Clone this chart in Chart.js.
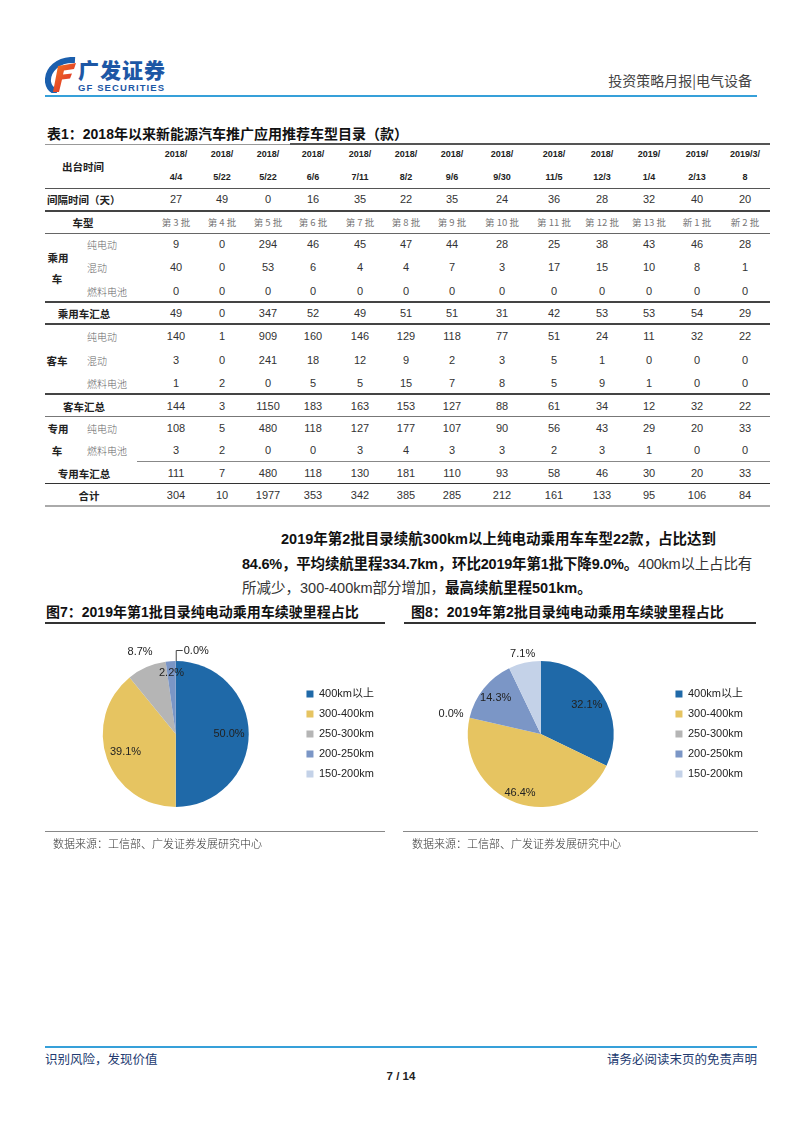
<!DOCTYPE html>
<html lang="zh-CN">
<head>
<meta charset="utf-8">
<title>广发证券 投资策略月报|电气设备</title>
<script src="https://cdn.jsdelivr.net/npm/chart.js"></script>
<style>
  html, body { margin: 0; padding: 0; background: #fff; }
  body { width: 802px; height: 1133px; position: relative; overflow: hidden;
         font-family: "Liberation Sans", Arial, "Noto Sans CJK SC", sans-serif; color: #222; }
  .abs { position: absolute; white-space: nowrap; }
  .c { transform: translate(-50%, -50%); }
  .l { transform: translate(0, -50%); }
  .r { transform: translate(-100%, -50%); }
  .hl { position: absolute; }
  .num { font-size: 11px; color: #333; }
  .date { font-size: 9px; font-weight: bold; color: #222; }
  .batch { font-size: 9.5px; color: #777; font-family: "Noto Sans CJK SC", sans-serif; }
  .lab { font-size: 10.5px; font-weight: bold; color: #222; font-family: "Noto Sans CJK SC", sans-serif; }
  .sub { font-size: 10px; color: #666; font-family: "Noto Sans CJK SC", sans-serif; font-weight: 300; }
  .cap { font-size: 14px; font-weight: bold; color: #111; font-family: "Liberation Sans", "Noto Sans CJK SC", sans-serif; }
  .para { font-size: 14.5px; color: #333; font-family: "Liberation Sans", "Noto Sans CJK SC", sans-serif; }
  .para b { color: #111; }
  .src { font-size: 11px; color: #333; font-family: "Noto Sans CJK SC", sans-serif; font-weight: 300; }
  canvas { position: absolute; }
</style>
</head>
<body>

<!-- 页眉 -->
<svg class="abs" style="left:45px;top:57px" width="32" height="36" viewBox="0 0 32 36">
  <defs>
    <linearGradient id="rg" x1="0" y1="0" x2="1" y2="1">
      <stop offset="0" stop-color="#f47a20"/>
      <stop offset="1" stop-color="#d8202c"/>
    </linearGradient>
  </defs>
  <path d="M30 3 C13 2, 2 13, 3 25 C4 31, 8 34, 12 35" stroke="#1b5fad" stroke-width="6" fill="none"/>
  <path d="M13 9 L31 6 L29 12 L19 13.5 L18 17.5 L27 16.5 L25 21.5 L17 22.5 L14 35 L8 35 Z" fill="url(#rg)"/>
</svg>
<div class="abs l" style="left:78px;top:69px;font-size:21px;line-height:1;letter-spacing:1px;font-weight:900;color:#1d57a5;font-family:'Noto Sans CJK SC';">广发证券</div>
<div class="abs l" style="left:78px;top:88px;font-size:9.5px;line-height:1;font-weight:bold;color:#1d57a5;letter-spacing:1.1px;">GF SECURITIES</div>
<div class="abs r" style="left:752px;top:80px;font-size:14px;color:#444;font-family:'Noto Sans CJK SC';">投资策略月报|电气设备</div>
<div class="hl" style="left:45px;top:95px;width:712px;height:2px;background:#36a0d9;"></div>

<!-- 表1 -->
<div class="abs l cap" style="left:47px;top:133px;">表1：2018年以来新能源汽车推广应用推荐车型目录（款）</div>
<div id="table"></div>

<!-- 正文 -->
<div class="abs l para" style="left:281px;top:537px;"><b>2019年第2批目录续航300km以上纯电动乘用车车型22款，占比达到</b></div>
<div class="abs l para" style="left:242px;top:562px;width:510px;letter-spacing:-0.25px;text-align:justify;text-align-last:justify;"><b>84.6%，平均续航里程334.7km，环比2019年第1批下降9.0%。</b>400km以上占比有</div>
<div class="abs l para" style="left:242px;top:586px;">所减少，300-400km部分增加，<b>最高续航里程501km。</b></div>

<!-- 图7 / 图8 -->
<div class="abs l cap" style="left:46px;top:611px;">图7：2019年第1批目录纯电动乘用车续驶里程占比</div>
<div class="hl" style="left:45px;top:622px;width:340px;height:1.5px;background:#333;"></div>
<div class="abs l cap" style="left:411px;top:611px;">图8：2019年第2批目录纯电动乘用车续驶里程占比</div>
<div class="hl" style="left:404px;top:622px;width:352px;height:1.5px;background:#333;"></div>

<canvas id="pie1"></canvas>
<canvas id="pie2"></canvas>

<div class="hl" style="left:45px;top:831px;width:340px;height:1px;background:#888;"></div>
<div class="abs l src" style="left:53px;top:843px;">数据来源：工信部、广发证券发展研究中心</div>
<div class="hl" style="left:403px;top:831px;width:355px;height:1px;background:#888;"></div>
<div class="abs l src" style="left:412px;top:843px;">数据来源：工信部、广发证券发展研究中心</div>

<!-- 页脚 -->
<div class="hl" style="left:45px;top:1046px;width:712px;height:2px;background:#36a0d9;"></div>
<div class="abs l" style="left:45px;top:1058px;font-size:12.5px;color:#223a70;font-family:'Noto Sans CJK SC';">识别风险，发现价值</div>
<div class="abs r" style="left:757px;top:1058px;font-size:12.5px;color:#223a70;font-family:'Noto Sans CJK SC';">请务必阅读末页的免责声明</div>
<div class="abs c" style="left:401px;top:1076px;font-size:11.5px;font-weight:bold;color:#222;">7 / 14</div>

<script>
// 表1 数据
const dateTop = ['2018/', '2018/', '2018/', '2018/', '2018/', '2018/', '2018/', '2018/', '2018/', '2018/', '2019/', '2019/', '2019/3/'];
const dateBottom = ['4/4', '5/22', '5/22', '6/6', '7/11', '8/2', '9/6', '9/30', '11/5', '12/3', '1/4', '2/13', '8'];
const intervalDays = [27, 49, 0, 16, 35, 22, 35, 24, 36, 28, 32, 40, 20];
const batchNames = ['第 3 批', '第 4 批', '第 5 批', '第 6 批', '第 7 批', '第 8 批', '第 9 批', '第 10 批', '第 11 批', '第 12 批', '第 13 批', '新 1 批', '新 2 批'];
const passengerBEV = [9, 0, 294, 46, 45, 47, 44, 28, 25, 38, 43, 46, 28];
const passengerHybrid = [40, 0, 53, 6, 4, 4, 7, 3, 17, 15, 10, 8, 1];
const passengerFuelCell = [0, 0, 0, 0, 0, 0, 0, 0, 0, 0, 0, 0, 0];
const passengerTotal = [49, 0, 347, 52, 49, 51, 51, 31, 42, 53, 53, 54, 29];
const busBEV = [140, 1, 909, 160, 146, 129, 118, 77, 51, 24, 11, 32, 22];
const busHybrid = [3, 0, 241, 18, 12, 9, 2, 3, 5, 1, 0, 0, 0];
const busFuelCell = [1, 2, 0, 5, 5, 15, 7, 8, 5, 9, 1, 0, 0];
const busTotal = [144, 3, 1150, 183, 163, 153, 127, 88, 61, 34, 12, 32, 22];
const specialBEV = [108, 5, 480, 118, 127, 177, 107, 90, 56, 43, 29, 20, 33];
const specialFuelCell = [3, 2, 0, 0, 3, 4, 3, 3, 2, 3, 1, 0, 0];
const specialTotal = [111, 7, 480, 118, 130, 181, 110, 93, 58, 46, 30, 20, 33];
const grandTotal = [304, 10, 1977, 353, 342, 385, 285, 212, 161, 133, 95, 106, 84];

// 图7、图8 数据（%）
const rangeLabels = ['400km以上', '300-400km', '250-300km', '200-250km', '150-200km'];
const batch1Share = [50.0, 39.1, 8.7, 2.2, 0.0];
const batch2Share = [32.1, 46.4, 0.0, 14.3, 7.1];

// ---- 表格排版 ----
const colX = [176, 222, 268, 313, 360, 406, 452, 502, 554, 602, 649, 697, 745];
const table = document.getElementById('table');

function put(text, x, y, cls, align) {
  const d = document.createElement('div');
  d.className = 'abs ' + (align || 'c') + ' ' + cls;
  d.style.left = x + 'px';
  d.style.top = y + 'px';
  d.textContent = text;
  table.appendChild(d);
}
function hline(y, x1, x2, h, color) {
  const d = document.createElement('div');
  d.className = 'hl';
  d.style.cssText = `left:${x1}px;top:${y - h / 2}px;width:${x2 - x1}px;height:${h}px;background:${color};`;
  table.appendChild(d);
}
function row(values, y, cls) {
  values.forEach((v, i) => put(String(v), colX[i], y, cls || 'num'));
}

row(dateTop, 154, 'date');
row(dateBottom, 177, 'date');
put('出台时间', 83, 166, 'lab');
row(intervalDays, 199);
put('间隔时间（天）', 47, 199, 'lab', 'l');
row(batchNames, 221.5, 'batch');
put('车型', 83, 221.5, 'lab');

put('乘用', 58, 257, 'lab');
put('车', 57, 278, 'lab');
put('纯电动', 87, 244, 'sub', 'l');
put('混动', 87, 267, 'sub', 'l');
put('燃料电池', 87, 290.5, 'sub', 'l');
row(passengerBEV, 244);
row(passengerHybrid, 267);
row(passengerFuelCell, 290.5);
put('乘用车汇总', 84, 312.5, 'lab');
row(passengerTotal, 312.5);

put('客车', 57, 360, 'lab');
put('纯电动', 87, 336, 'sub', 'l');
put('混动', 87, 360, 'sub', 'l');
put('燃料电池', 87, 382.5, 'sub', 'l');
row(busBEV, 336);
row(busHybrid, 360);
row(busFuelCell, 382.5);
put('客车汇总', 84, 405.5, 'lab');
row(busTotal, 405.5);

put('专用', 58, 428, 'lab');
put('车', 57, 450, 'lab');
put('纯电动', 87, 428, 'sub', 'l');
put('燃料电池', 87, 450, 'sub', 'l');
row(specialBEV, 428);
row(specialFuelCell, 450);
put('专用车汇总', 84, 472.5, 'lab');
row(specialTotal, 472.5);
put('合计', 89, 494.5, 'lab');
row(grandTotal, 494.5);

hline(144, 45, 290, 1, '#999');
hline(144, 290, 770, 2, '#555');
hline(188.5, 45, 770, 1, '#555');
hline(210.5, 45, 770, 2, '#444');
hline(233, 45, 770, 1, '#666');
hline(302, 45, 770, 1.5, '#444');
hline(324, 45, 770, 2, '#444');
hline(393.5, 45, 770, 2, '#444');
hline(416, 45, 770, 1, '#777');
hline(461.5, 137, 770, 1, '#888');
hline(483.5, 45, 770, 1.5, '#333');
hline(506, 45, 770, 2, '#aaa');

// ---- 饼图 ----
const sliceColors = ['#1f69a8', '#e6c461', '#b5b5b5', '#7b96c6', '#c4d2e8'];

const sliceLabels = {
  id: 'sliceLabels',
  afterDatasetsDraw(chart, args, opts) {
    const ctx = chart.ctx;
    const meta = chart.getDatasetMeta(0);
    const values = chart.data.datasets[0].data;
    ctx.save();
    ctx.font = '11px "Liberation Sans", Arial, sans-serif';
    ctx.fillStyle = '#222';
    ctx.textBaseline = 'middle';
    meta.data.forEach((arc, i) => {
      const p = arc.getProps(['x', 'y', 'startAngle', 'endAngle', 'outerRadius'], true);
      const mid = (p.startAngle + p.endAngle) / 2;
      const text = values[i].toFixed(1) + '%';
      if (opts.leader[i]) {
        // 0 值扇区：引导线
        const ex = p.x + Math.cos(mid) * p.outerRadius;
        const ey = p.y + Math.sin(mid) * p.outerRadius;
        ctx.strokeStyle = '#444';
        ctx.lineWidth = 1;
        ctx.beginPath();
        ctx.moveTo(ex + 0.5, ey);
        ctx.lineTo(ex + 0.5, ey - 10.5);
        ctx.lineTo(ex + 7, ey - 10.5);
        ctx.stroke();
        ctx.textAlign = 'left';
        ctx.fillText(text, ex + 8, ey - 10);
        return;
      }
      const k = opts.dist[i];
      ctx.textAlign = 'center';
      ctx.fillText(text, p.x + Math.cos(mid) * p.outerRadius * k, p.y + Math.sin(mid) * p.outerRadius * k);
    });
    ctx.restore();
  }
};

function makePie(id, share, box, padding, dist, leader) {
  const canvas = document.getElementById(id);
  canvas.width = box.w;
  canvas.height = box.h;
  canvas.style.left = box.x + 'px';
  canvas.style.top = box.y + 'px';
  return new Chart(canvas, {
    type: 'pie',
    data: {
      labels: rangeLabels,
      datasets: [{
        data: share,
        backgroundColor: sliceColors,
        borderWidth: 0,
        hoverOffset: 0
      }]
    },
    options: {
      responsive: false,
      animation: false,
      layout: { padding: padding },
      plugins: {
        tooltip: { enabled: false },
        legend: {
          position: 'right',
          align: 'center',
          labels: {
            boxWidth: 7,
            boxHeight: 7,
            padding: 9,
            color: '#222',
            font: { size: 11, family: '"Liberation Sans", Arial, "Noto Sans CJK SC", sans-serif' }
          }
        },
        sliceLabels: { dist: dist, leader: leader }
      }
    },
    plugins: [sliceLabels]
  });
}

makePie('pie1', batch1Share, { x: 45, y: 636, w: 355, h: 196 },
  { left: 9, right: 16, top: 25, bottom: 25 },
  [0.73, 0.73, 1.22, 0.84, 0], [false, false, false, false, true]);

makePie('pie2', batch2Share, { x: 403, y: 636, w: 357, h: 196 },
  { left: 12, right: 7, top: 25, bottom: 25 },
  [0.745, 0.86, 1.26, 0.79, 1.12], [false, false, false, false, false]);
</script>
</body>
</html>
